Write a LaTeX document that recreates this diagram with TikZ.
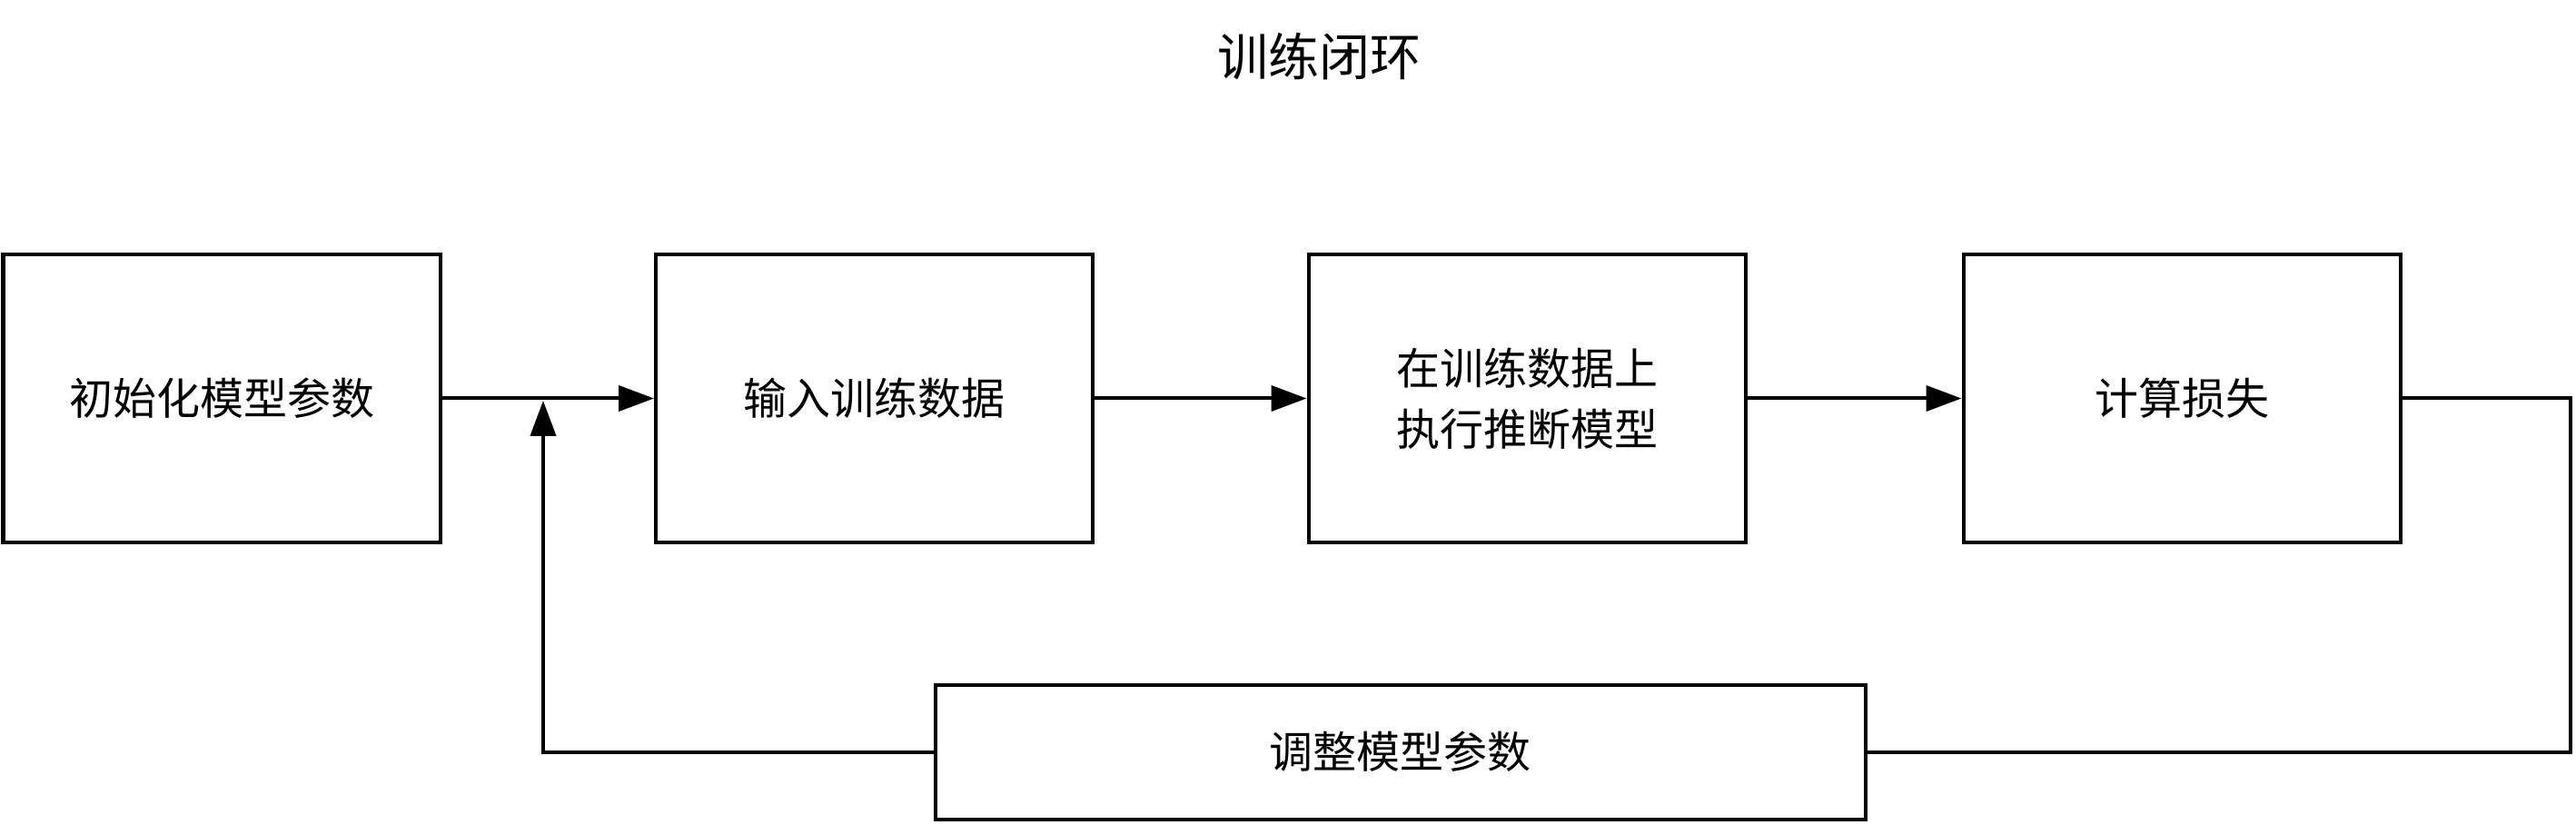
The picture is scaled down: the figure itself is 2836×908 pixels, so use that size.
\documentclass[tikz,border=0pt]{standalone}
\usepackage{fontspec}
\newfontfamily\cjk{Noto Sans CJK SC}
\usetikzlibrary{arrows.meta}
\tikzset{
  blk/.style={draw=black, line width=1pt, rectangle, inner sep=0pt,
    minimum width=120.25pt, minimum height=79.25pt, align=center,
    font=\cjk\fontsize{12pt}{16.75pt}\selectfont},
  wide/.style={blk, minimum width=256.1pt, minimum height=37pt},
  conn/.style={draw=black, line width=1pt},
  arr/.style={conn, -{Triangle[length=9.75pt,width=7pt]}},
  ttl/.style={font=\cjk\fontsize{14pt}{17pt}\selectfont, inner sep=0pt}
}
\begin{document}
\begin{tikzpicture}[x=0.25pt,y=-0.25pt]
\useasboundingbox (0,0) rectangle (2836,908);
\node[ttl] (title) at (1452,62) {训练闭环};
\node[blk] (b1) at (244,438.5) {初始化模型参数};
\node[blk] (b2) at (962.5,438.5) {输入训练数据};
\node[blk] (b3) at (1681,438.5) {在训练数据上\\执行推断模型};
\node[blk] (b4) at (2402,438.5) {计算损失};
\node[wide] (b5) at (1541.7,827.5) {调整模型参数};
\coordinate (r) at (2830,827.5);
\coordinate (j) at (598,441);
\draw[arr] (b1.east) -- (b2.west);
\draw[arr] (b2.east) -- (b3.west);
\draw[arr] (b3.east) -- (b4.west);
\draw[conn] (b4.east) -| (r) -- (b5.east);
\draw[arr] (b5.west) -| (j);
\end{tikzpicture}
\end{document}
